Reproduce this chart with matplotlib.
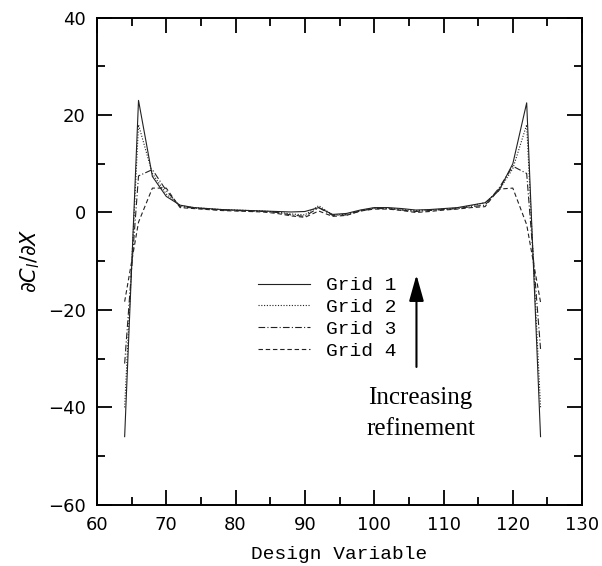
import numpy as np
import matplotlib.pyplot as plt

# design variable index
x = np.arange(64, 126, 2)

# dCl/dX for each grid
grid1 = [-46, 23, 7.4, 3.3, 1.5, 1.0, 0.8, 0.6, 0.5, 0.4, 0.3, 0.2, 0.1, 0.2,
         1.0, -0.4, -0.2, 0.5, 1.0, 1.0, 0.8, 0.5, 0.6, 0.8, 1.0, 1.5, 2.0,
         4.5, 10.0, 22.5, -46]
grid2 = [-40, 18, 8.0, 3.8, 1.4, 1.0, 0.8, 0.6, 0.5, 0.4, 0.3, 0.1, -0.3, -0.5,
         1.4, -0.5, -0.4, 0.4, 0.9, 0.9, 0.6, 0.4, 0.5, 0.7, 0.9, 1.4, 2.0,
         4.5, 9.0, 18.0, -40]
grid3 = [-31, 7.5, 8.8, 4.5, 1.2, 0.9, 0.7, 0.5, 0.4, 0.3, 0.2, 0.0, -0.5, -0.8,
         1.0, -0.6, -0.5, 0.3, 0.8, 0.8, 0.5, 0.2, 0.4, 0.6, 0.8, 1.2, 1.5,
         5.0, 9.5, 8.0, -28]
grid4 = [-18.3, -2.0, 5.0, 5.0, 1.0, 0.8, 0.6, 0.4, 0.3, 0.2, 0.1, -0.2, -0.7, -1.0,
         0.3, -0.8, -0.6, 0.3, 0.7, 0.7, 0.4, 0.0, 0.2, 0.5, 0.7, 1.0, 1.2,
         4.8, 5.0, -2.5, -18.4]

labels = ['Grid 1', 'Grid 2', 'Grid 3', 'Grid 4']
styles = ['-', (0, (1, 1.5)), (0, (6, 2, 1, 2)), (0, (4, 2.5))]

mono = 'Liberation Mono'

fig = plt.figure(figsize=(6.02, 5.66), dpi=100)
ax = fig.add_axes([0.161, 0.108, 0.806, 0.861])

for ys, lab, ls in zip([grid1, grid2, grid3, grid4], labels, styles):
    ax.plot(x, ys, color='#222222', linestyle=ls, linewidth=0.8, label=lab)

ax.set_xlim(60, 130)
ax.set_ylim(-60, 40)
ax.set_xticks(np.arange(60, 131, 10))
ax.set_xticks(np.arange(65, 130, 10), minor=True)
ax.set_yticks(np.arange(-60, 41, 20))
ax.set_yticks(np.arange(-50, 40, 20), minor=True)
ax.tick_params(which='both', direction='in', top=True, right=True, width=1.3,
               labelsize=13)
ax.tick_params(which='major', length=11, pad=8)
ax.tick_params(which='minor', length=6)
for lab in ax.get_xticklabels() + ax.get_yticklabels():
    lab.set_family('DejaVu Sans')
for sp in ax.spines.values():
    sp.set_linewidth(1.4)

ax.set_xlabel('Design Variable', fontsize=14, family=mono, labelpad=9)
ax.set_ylabel(r'$\partial C_l/\partial X$', fontsize=15, labelpad=4)

leg = ax.legend(loc='upper left', bbox_to_anchor=(83.2, -13.2),
                bbox_transform=ax.transData, frameon=False, borderpad=0,
                borderaxespad=0, handlelength=2.7, handletextpad=0.8,
                labelspacing=0.22, prop={'family': mono, 'size': 14})

ax.annotate('', xy=(106.1, -12.8), xytext=(106.1, -31.7),
            arrowprops=dict(arrowstyle='-|>,head_length=1.6,head_width=0.45',
                            color='black', lw=1.5, shrinkA=0, shrinkB=0))
ax.text(106.7, -41.2, 'Increasing\nrefinement', ha='center', va='center',
        fontsize=18, family='Liberation Serif', linespacing=1.5)

fig.savefig('out.png', dpi=100)
